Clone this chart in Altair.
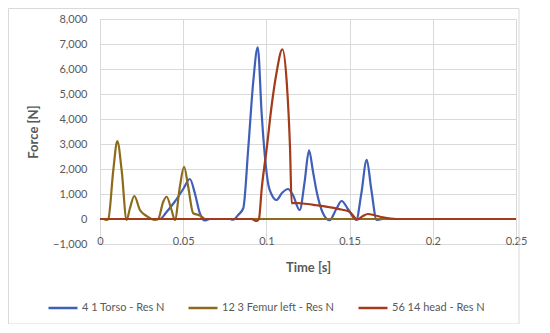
import altair as alt
import pandas as pd

# ---- data ----
torso_t = [0, 0.035, 0.036, 0.040, 0.045, 0.050, 0.054, 0.057, 0.060, 0.063, 0.066, 0.078, 0.080,
           0.083, 0.0861, 0.0891, 0.0921, 0.0948, 0.0972, 0.0992, 0.1012, 0.103, 0.106, 0.1095,
           0.113, 0.116, 0.120, 0.123, 0.1256, 0.128, 0.130, 0.134, 0.138, 0.142, 0.1452, 0.149,
           0.154, 0.157, 0.1603, 0.163, 0.1663, 0.170, 0.25]
torso_v = [0, 0, 0, 280, 700, 1200, 1600, 1030, 230, -60, 0, 0, -30,
           160, 430, 2830, 5490, 6870, 4160, 2430, 1360, 1000, 760, 1050,
           1200, 950, 360, 1500, 2750, 1900, 1160, 230, -50, 400, 720, 400,
           -40, 1000, 2370, 1200, -40, 0, 0]

femur_t = [0, 0.002, 0.004, 0.005, 0.008, 0.0104, 0.013, 0.016, 0.018, 0.0206, 0.024, 0.028,
           0.033, 0.035, 0.038, 0.040, 0.043, 0.045, 0.048, 0.0505, 0.053, 0.056, 0.059, 0.061,
           0.063, 0.25]
femur_v = [0, 0, -40, 0, 1960, 3120, 1960, -40, 430, 920, 360, 120,
           -40, 0, 690, 890, 360, -40, 1290, 2090, 1290, 230, 160, 100,
           0, 0]

head_t = [0, 0.091, 0.0941, 0.0955, 0.0972, 0.1002, 0.1032, 0.1062, 0.1096, 0.1122, 0.1142,
          0.1152, 0.118, 0.122, 0.130, 0.138, 0.145, 0.150, 0.1546, 0.158, 0.161, 0.165, 0.170,
          0.178, 0.25]
head_v = [0, 0, -80, 0, 1230, 2830, 4560, 5890, 6790, 5490, 2830,
          630, 640, 620, 550, 470, 380, 290, -20, 120, 200, 150, 70,
          0, 0]

series_names = ["4 1 Torso - Res N", "12 3 Femur left - Res N", "56 14 head - Res N"]
series_colors = ["#3F5FB8", "#8C6B1C", "#A33A1A"]
x_ticks = [0, 0.05, 0.1, 0.15, 0.2, 0.25]
y_ticks = [-1000, 0, 1000, 2000, 3000, 4000, 5000, 6000, 7000, 8000]

rows = []
for name, ts, vs in zip(series_names, [torso_t, femur_t, head_t], [torso_v, femur_v, head_v]):
    for i, (t, v) in enumerate(zip(ts, vs)):
        rows.append({"series": name, "t": t, "v": v, "i": i})
df = pd.DataFrame(rows)

FONT = "Lato"
GRAY = "#595959"

lines = alt.Chart(df).mark_line(interpolate="monotone", strokeWidth=2.2).encode(
    x=alt.X("t:Q",
            scale=alt.Scale(domain=[0, 0.25], nice=False, zero=False),
            axis=alt.Axis(values=x_ticks, format=".2~f", title="Time [s]",
                          ticks=False, domain=False, labelPadding=-3, labelBaseline="middle",
                          labelFlush=False, labelFontSize=11, labelColor=GRAY,
                          titleFontSize=13, titleFontWeight="bold", titleColor=GRAY,
                          titleY=23, titleBaseline="middle",
                          gridColor="#d9d9d9", labelFont=FONT, titleFont=FONT)),
    y=alt.Y("v:Q",
            scale=alt.Scale(domain=[-1000, 8000], nice=False),
            axis=alt.Axis(values=y_ticks, format=",.0f", title="Force [N]",
                          ticks=False, domain=False, labelPadding=13,
                          labelFontSize=11, labelColor=GRAY,
                          titleFontSize=13, titleFontWeight="bold", titleColor=GRAY,
                          titleX=-67, titleBaseline="middle", titleAngle=270,
                          gridColor="#d9d9d9", labelFont=FONT, titleFont=FONT)),
    color=alt.Color("series:N",
                    scale=alt.Scale(domain=series_names, range=series_colors),
                    sort=series_names,
                    legend=alt.Legend(title=None, orient="none", direction="horizontal",
                                      legendX=-53, legendY=273, symbolType="stroke",
                                      symbolSize=841, symbolStrokeWidth=2.5,
                                      labelFontSize=11, labelColor=GRAY, labelFont=FONT,
                                      labelOffset=3, columnPadding=18, padding=0)),
    order=alt.Order("i:Q"),
    detail="series:N",
)

frame = alt.Chart(alt.Data(values=[{"a": 1}])).mark_rect(
    fill=None, stroke="#d9d9d9", strokeWidth=1, clip=False
).encode(
    x=alt.value(-91.5), x2=alt.value(419), y=alt.value(-10.5), y2=alt.value(305)
)

chart = alt.layer(frame, lines).properties(
    width=416, height=225,
    autosize=alt.AutoSizeParams(type="none"),
    padding={"left": 92, "top": 11, "right": 26, "bottom": 80},
).configure_view(stroke=None).configure(background="white")

chart.save("out.html", embed_options={"renderer": "svg", "actions": False})
